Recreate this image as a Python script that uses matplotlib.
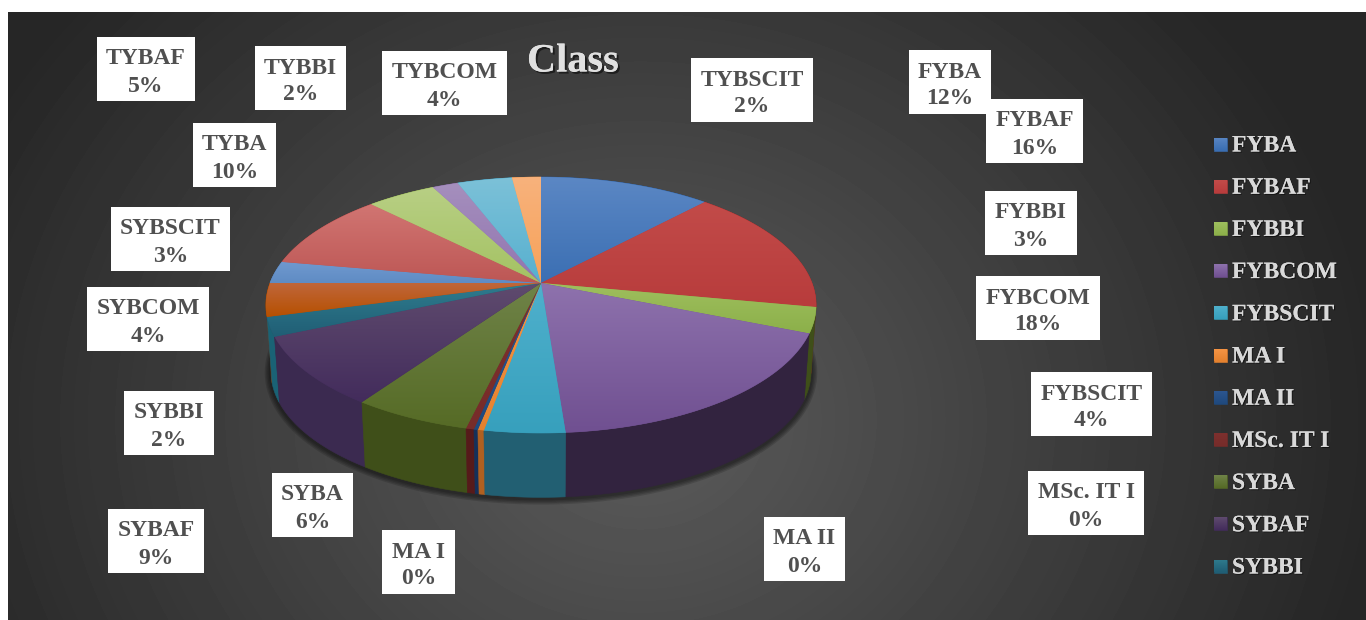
"""Pseudo-3D pie of students per class, dark Office style."""
import matplotlib
matplotlib.use("Agg")
import matplotlib.patheffects as pe
import matplotlib.pyplot as plt
import numpy as np
from matplotlib.colors import to_rgb
from matplotlib.patches import Polygon, Rectangle

plt.rcParams["font.family"] = ["Liberation Serif", "DejaVu Serif"]

CLASSES = ["FYBA", "FYBAF", "FYBBI", "FYBCOM", "FYBSCIT", "MA I", "MA II", "MSc. IT I",
           "SYBA", "SYBAF", "SYBBI", "SYBCOM", "SYBSCIT", "TYBA", "TYBAF", "TYBBI",
           "TYBCOM", "TYBSCIT"]
SHARES = [11.9, 16.1, 3.2, 17.6, 4.0, 0.3, 0.2, 0.4, 5.9, 8.8, 2.4, 4.2, 2.8, 9.8, 4.8,
          1.8, 3.8, 2.0]
LEGEND_CLASSES = CLASSES[:11]

TOP_LIGHT = ["#5b87c4", "#c24b49", "#9fbf5e", "#8e72ad", "#4fb0cc", "#f79646", "#2c5690",
             "#7d302e", "#6f8348", "#5f4b6e", "#2f7c8e", "#c0663a", "#7099cf", "#d17572",
             "#b8cf84", "#a58fbd", "#7cc1d8", "#f8b27c"]
TOP_DARK = ["#3b6fb3", "#b83c3c", "#8cb04a", "#705091", "#37a0bd", "#e5822f", "#1f497d",
            "#772c2a", "#566b26", "#432c5c", "#205e75", "#b65000", "#5f8cc4", "#bd5755",
            "#a4c263", "#9275b0", "#57b0cf", "#f7a259"]
SIDE = ["#26456f", "#6e2524", "#3f4f19", "#32233f", "#225f72", "#b06020", "#14305a",
        "#561a1a", "#3f4f19", "#3b2a50", "#1a6275", "#7a3a0c", "#3b5a85", "#7a3736",
        "#5c7230", "#4d3a63", "#2c6c82", "#9c6030"]

# label boxes in pixels: x0, y0, x1, y1
BOXES = {
    "FYBA": (909, 50, 991, 114), "FYBAF": (986, 99, 1083, 163), "FYBBI": (985, 191, 1077, 255),
    "FYBCOM": (976, 276, 1100, 340), "FYBSCIT": (1031, 372, 1152, 436),
    "MSc. IT I": (1028, 471, 1144, 535), "MA II": (764, 517, 845, 581), "MA I": (382, 530, 455, 594),
    "SYBAF": (108, 509, 204, 573), "SYBA": (272, 473, 353, 537), "SYBBI": (124, 391, 214, 455),
    "SYBCOM": (87, 287, 209, 351), "SYBSCIT": (111, 207, 230, 271), "TYBA": (193, 123, 276, 187),
    "TYBAF": (97, 37, 195, 101), "TYBBI": (255, 46, 346, 110), "TYBCOM": (382, 51, 507, 115),
    "TYBSCIT": (691, 58, 813, 122),
}
W, H = 1366, 620
CX, CY_TOP, CY_BOT = 541, 283, 350
AX_TOP, AY_TOP, AX_BOT, AY_BOT = 271, 124.2, 266, 122
K = 0.172


def rim(theta, ax_, ay_, cy):
    """Perspective-projected rim points; theta clockwise from 12 o'clock."""
    u, v = np.sin(theta), -np.cos(theta)
    d = 1 - K * v
    return np.column_stack([CX + ax_ * u / d, cy + ay_ * v / d])


def grad_image(ax, verts, c0, c1):
    y0, y1 = verts[:, 1].min(), verts[:, 1].max()
    t = np.linspace(0, 1, 64)[:, None, None]
    arr = (1 - t) * np.array(to_rgb(c0))[None, None, :] + t * np.array(to_rgb(c1))[None, None, :]
    patch = Polygon(verts, closed=True, fc=c1, ec=c1, lw=0.4, zorder=5)
    ax.add_patch(patch)
    im = ax.imshow(arr, extent=(verts[:, 0].min(), verts[:, 0].max(), y1, y0), aspect="auto",
                   zorder=5.1, interpolation="bilinear")
    im.set_clip_path(patch)


fig = plt.figure(figsize=(W / 100, H / 100), dpi=100, facecolor="white")
ax = fig.add_axes([0, 0, 1, 1])
ax.set_xlim(0, W)
ax.set_ylim(H, 0)
ax.axis("off")
ax.autoscale(False)

# background radial gradient
xx, yy = np.meshgrid(np.arange(8, W), np.arange(12, H))
dist = np.sqrt(((xx - 640) / 740.0) ** 2 + ((yy - 420) / 640.0) ** 2)
shade = np.clip(0.36 - 0.21 * dist, 0.15, 0.36)
ax.imshow(shade, extent=(8, W, H, 12), cmap="gray", vmin=0, vmax=1, aspect="auto", zorder=0)

# soft shadow under the pie
all_theta = np.linspace(0, 2 * np.pi, 361)
bottom_rim = rim(all_theta, AX_BOT, AY_BOT, CY_BOT)
for lw in [9, 7, 5, 3]:
    ax.plot(bottom_rim[:, 0], bottom_rim[:, 1] + 1, color="black", alpha=0.14, lw=lw, zorder=1)

edges = np.cumsum([0] + SHARES) / sum(SHARES) * 2 * np.pi

# side walls, back to front
order = np.argsort(-np.cos((edges[:-1] + edges[1:]) / 2))
for i in order:
    th = np.linspace(edges[i], edges[i + 1], 40)
    top = rim(th, AX_TOP, AY_TOP, CY_TOP)
    bot = rim(th, AX_BOT, AY_BOT, CY_BOT)
    ax.add_patch(Polygon(np.vstack([top, bot[::-1]]), closed=True, fc=SIDE[i], ec=SIDE[i],
                         lw=0.4, zorder=3))

# top face
for i in range(len(SHARES)):
    th = np.linspace(edges[i], edges[i + 1], 60)
    verts = np.vstack([[CX, CY_TOP], rim(th, AX_TOP, AY_TOP, CY_TOP)])
    grad_image(ax, verts, TOP_LIGHT[i], TOP_DARK[i])

# title
ax.text(573, 62, "Class", ha="center", va="center", fontsize=29, fontweight="bold", color="#e0e0e0",
        zorder=8, path_effects=[pe.withSimplePatchShadow(offset=(1.5, -1.5), shadow_rgbFace="black",
                                                          alpha=0.5), pe.Normal()])

# data labels
for name, share in zip(CLASSES, SHARES):
    x0, y0, x1, y1 = BOXES[name]
    ax.add_patch(Rectangle((x0, y0), x1 - x0, y1 - y0, fc="white", ec="none", zorder=9))
    mx = (x0 + x1) / 2
    ax.text(mx, y0 + 22, name, ha="center", va="center", fontsize=17, fontweight="bold",
            color="#505050", zorder=10)
    ax.text(mx, y0 + 49, f"{round(share)}%", ha="center", va="center", fontsize=17, fontweight="bold",
            color="#505050", zorder=10)

# legend
for i, name in enumerate(LEGEND_CLASSES):
    yc = 144 + i * 42.2
    verts = np.array([[1214, yc - 6.5], [1227, yc - 6.5], [1227, yc + 6.5], [1214, yc + 6.5]])
    grad_image(ax, verts, TOP_LIGHT[i], TOP_DARK[i])
    ax.text(1232, yc + 2, name, ha="left", va="center", fontsize=17, fontweight="bold", color="#d9d9d9",
            zorder=8, path_effects=[pe.withSimplePatchShadow(offset=(0.8, -0.8), shadow_rgbFace="black",
                                                              alpha=0.5), pe.Normal()])

fig.savefig("out.png", dpi=100, facecolor="white")
